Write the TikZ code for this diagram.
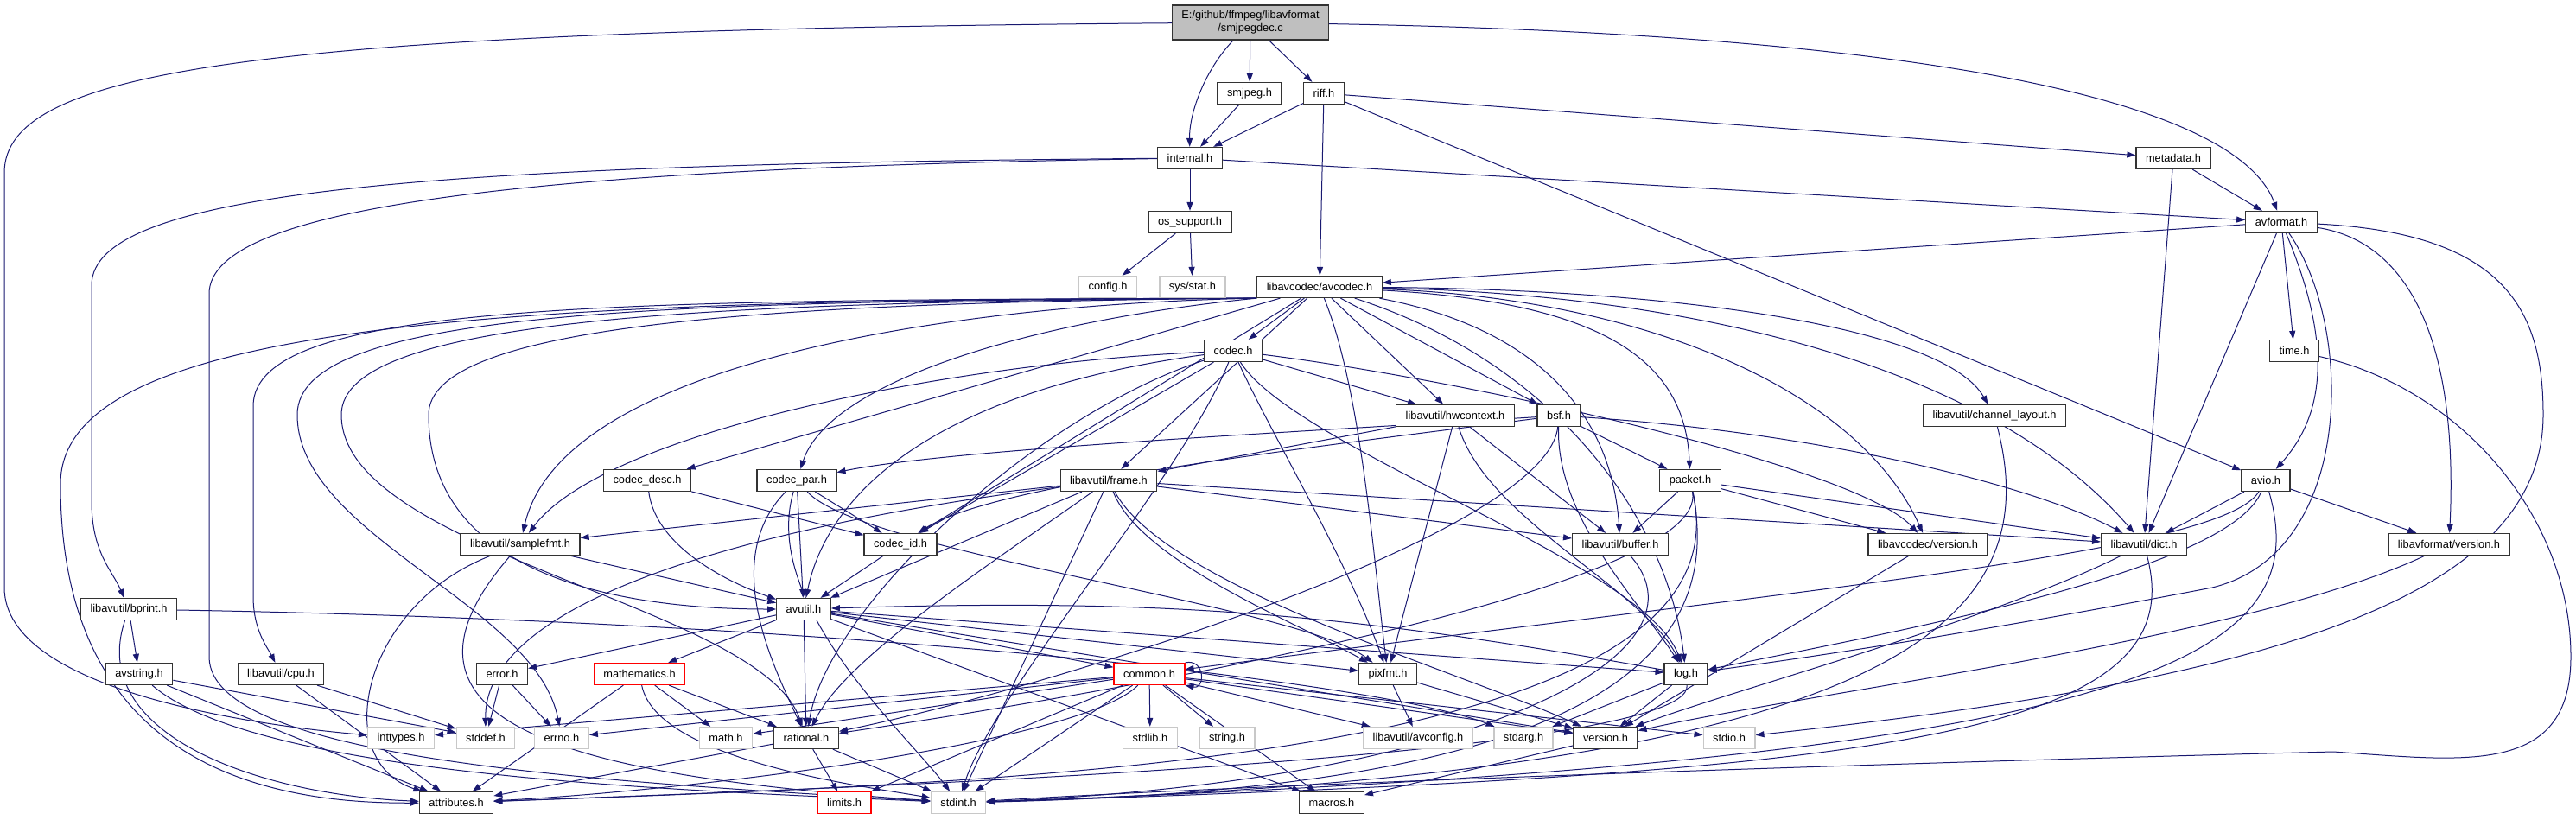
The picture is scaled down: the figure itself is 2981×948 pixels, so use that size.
\documentclass[tikz,border=0pt]{standalone}
\usepackage{fontspec}
\setmainfont{Liberation Sans}
\usetikzlibrary{arrows.meta}
\definecolor{edgeblue}{HTML}{191970}
\definecolor{rootgray}{HTML}{BFBFBF}
\definecolor{sysgray}{HTML}{C8C8C8}
\pgfdeclarelayer{edges}
\pgfsetlayers{edges,main}

\begin{document}
\begin{tikzpicture}[x=1pt,y=-1pt,
  hdr/.style={draw=black!80, line width=1.3pt, fill=white, minimum height=25pt, inner xsep=11pt, inner ysep=0pt, font=\fontsize{12.8}{15}\selectfont},
  syshdr/.style={hdr, draw=sysgray},
  cuthdr/.style={hdr, draw=red},
  roothdr/.style={hdr, fill=rootgray, align=center, minimum height=40pt},
  dep/.style={draw=edgeblue, line width=1pt, -{Triangle[length=10pt,width=7pt]}}]
\useasboundingbox (0,0) rectangle (2981,948);
\node[roothdr] (src) at (1447,26) {E:/github/ffmpeg/libavformat\\/smjpegdec.c};
\node[hdr] (smjpeg) at (1446,108) {smjpeg.h};
\node[hdr] (riff) at (1532,108) {riff.h};
\node[hdr] (internal) at (1377,183) {internal.h};
\node[hdr] (metadata) at (2515,183) {metadata.h};
\node[hdr] (ossupport) at (1377,257) {os\_support.h};
\node[hdr] (avformat) at (2640,257) {avformat.h};
\node[syshdr] (config) at (1282,332) {config.h};
\node[syshdr] (sysstat) at (1380,332) {sys/stat.h};
\node[hdr] (avcodec) at (1527,332) {libavcodec/avcodec.h};
\node[hdr] (codec) at (1427,406) {codec.h};
\node[hdr] (timeh) at (2655,406) {time.h};
\node[hdr] (hwcontext) at (1684,481) {libavutil/hwcontext.h};
\node[hdr] (bsf) at (1804,481) {bsf.h};
\node[hdr] (chlayout) at (2308,481) {libavutil/channel\_layout.h};
\node[hdr] (codecdesc) at (749,556) {codec\_desc.h};
\node[hdr] (codecpar) at (922,556) {codec\_par.h};
\node[hdr] (frame) at (1283,556) {libavutil/frame.h};
\node[hdr] (packet) at (1956,556) {packet.h};
\node[hdr] (avio) at (2622,556) {avio.h};
\node[hdr] (samplefmt) at (602,630) {libavutil/samplefmt.h};
\node[hdr] (codecid) at (1042,630) {codec\_id.h};
\node[hdr] (buffer) at (1875,630) {libavutil/buffer.h};
\node[hdr] (lavcversion) at (2231,630) {libavcodec/version.h};
\node[hdr] (dict) at (2481,630) {libavutil/dict.h};
\node[hdr] (lavfversion) at (2834,630) {libavformat/version.h};
\node[hdr] (bprint) at (149,705) {libavutil/bprint.h};
\node[hdr] (avutil) at (930,705) {avutil.h};
\node[hdr] (avstring) at (161,780) {avstring.h};
\node[hdr] (cpu) at (325,780) {libavutil/cpu.h};
\node[hdr] (error) at (581,780) {error.h};
\node[cuthdr] (mathematics) at (740,780) {mathematics.h};
\node[cuthdr] (common) at (1330,780) {common.h};
\node[hdr] (pixfmt) at (1606,780) {pixfmt.h};
\node[hdr] (log) at (1951,780) {log.h};
\node[syshdr] (inttypes) at (464,854) {inttypes.h};
\node[syshdr] (stddef) at (562,854) {stddef.h};
\node[syshdr] (errno) at (650,854) {errno.h};
\node[syshdr] (math) at (840,854) {math.h};
\node[hdr] (rational) at (933,854) {rational.h};
\node[syshdr] (stdlib) at (1331,854) {stdlib.h};
\node[syshdr] (string) at (1420,854) {string.h};
\node[syshdr] (avconfig) at (1641,854) {libavutil/avconfig.h};
\node[syshdr] (stdarg) at (1763,854) {stdarg.h};
\node[hdr] (version) at (1858,854) {version.h};
\node[syshdr] (stdio) at (2001,854) {stdio.h};
\node[hdr] (attributes) at (528,929) {attributes.h};
\node[cuthdr] (limits) at (977,929) {limits.h};
\node[syshdr] (stdint) at (1109,929) {stdint.h};
\node[hdr] (macros) at (1541,929) {macros.h};
\begin{pgfonlayer}{edges}
\draw[dep] (src) -- (smjpeg);
\draw[dep] (src) -- (riff);
\draw[dep] (src) .. controls (1395,80) and (1376,130) .. (internal);
\draw[dep] (src) .. controls (2250,40) and (2590,120) .. (avformat);
\draw[dep] (src) .. controls (300,35) and (5,80) .. (5,200) -- (5,680) .. controls (5,800) and (300,840) .. (inttypes);
\draw[dep] (smjpeg) -- (internal);
\draw[dep] (riff) -- (internal);
\draw[dep] (riff) -- (avcodec);
\draw[dep] (riff) -- (metadata);
\draw[dep] (riff) -- (avio);
\draw[dep] (internal) -- (ossupport);
\draw[dep] (internal) -- (avformat);
\draw[dep] (internal) .. controls (500,190) and (106,220) .. (106,330) -- (106,580) .. controls (106,640) and (130,660) .. (bprint);
\draw[dep] (internal) .. controls (600,195) and (242,240) .. (242,340) -- (242,760) .. controls (242,880) and (700,905) .. (stdint);
\draw[dep] (ossupport) -- (config);
\draw[dep] (ossupport) -- (sysstat);
\draw[dep] (metadata) -- (avformat);
\draw[dep] (metadata) -- (dict);
\draw[dep] (avformat) -- (avcodec);
\draw[dep] (avformat) -- (timeh);
\draw[dep] (avformat) -- (dict);
\draw[dep] (avformat) .. controls (2700,400) and (2690,480) .. (avio);
\draw[dep] (avformat) .. controls (2725,380) and (2725,640) .. (2560,680) .. controls (2300,730) and (2100,760) .. (log);
\draw[dep] (avformat) .. controls (2790,280) and (2845,400) .. (lavfversion);
\draw[dep] (avformat) .. controls (2900,270) and (2943,360) .. (2943,480) .. controls (2943,700) and (2600,790) .. (stdio);
\draw[dep] (timeh) .. controls (2850,450) and (2975,600) .. (2975,760) .. controls (2975,900) and (2850,880) .. (2700,870) .. controls (2300,880) and (1500,905) .. (stdint);
\draw[dep] (avcodec) -- (codec);
\draw[dep] (avcodec.south west) .. controls (1100,352) and (650,420) .. (samplefmt);
\draw[dep] (avcodec) -- (codecdesc);
\draw[dep] (avcodec.south west) .. controls (1200,370) and (960,440) .. (codecpar);
\draw[dep] (avcodec) -- (codecid);
\draw[dep] (avcodec) -- (frame);
\draw[dep] (avcodec) -- (hwcontext);
\draw[dep] (avcodec) .. controls (1575,450) and (1590,650) .. (pixfmt);
\draw[dep] (avcodec) -- (bsf);
\draw[dep] (avcodec) .. controls (1860,350) and (1950,420) .. (packet);
\draw[dep] (avcodec) .. controls (1780,380) and (1865,480) .. (buffer);
\draw[dep] (avcodec) .. controls (1900,345) and (2150,450) .. (lavcversion);
\draw[dep] (avcodec) .. controls (1950,340) and (2300,420) .. (dict);
\draw[dep] (avcodec) .. controls (1800,420) and (1930,600) .. (log);
\draw[dep] (avcodec) .. controls (1950,335) and (2250,380) .. (chlayout);
\draw[dep] (avcodec.south west) .. controls (600,346) and (70,370) .. (70,560) .. controls (70,880) and (300,930) .. (attributes);
\draw[dep] (avcodec.south west) .. controls (700,347) and (293,350) .. (293,470) -- (293,690) .. controls (293,730) and (310,750) .. (cpu);
\draw[dep] (avcodec.south west) .. controls (750,348) and (344,360) .. (344,480) .. controls (344,620) and (620,700) .. (errno);
\draw[dep] (avcodec.south west) .. controls (800,349) and (395,370) .. (395,480) .. controls (395,640) and (880,700) .. (rational);
\draw[dep] (avcodec.south west) .. controls (850,350) and (496,380) .. (496,480) .. controls (496,680) and (750,705) .. (avutil);
\draw[dep] (codec) .. controls (1100,420) and (700,500) .. (samplefmt);
\draw[dep] (codec) -- (codecid);
\draw[dep] (codec) .. controls (1100,450) and (960,560) .. (avutil);
\draw[dep] (codec) .. controls (1200,480) and (960,700) .. (rational);
\draw[dep] (codec) .. controls (1370,550) and (1150,800) .. (stdint);
\draw[dep] (codec) -- (hwcontext);
\draw[dep] (codec) .. controls (1500,520) and (1900,650) .. (log);
\draw[dep] (codec) .. controls (1470,500) and (1560,650) .. (pixfmt);
\draw[dep] (codec) .. controls (1700,440) and (2150,540) .. (lavcversion);
\draw[dep] (bsf) .. controls (1500,500) and (1100,520) .. (codecpar);
\draw[dep] (bsf) .. controls (1500,520) and (1150,560) .. (codecid);
\draw[dep] (bsf) -- (packet);
\draw[dep] (bsf) .. controls (2100,500) and (2350,560) .. (dict);
\draw[dep] (bsf) .. controls (1800,600) and (1900,700) .. (log);
\draw[dep] (bsf) .. controls (1790,620) and (1200,800) .. (rational);
\draw[dep] (hwcontext) -- (frame);
\draw[dep] (hwcontext) -- (buffer);
\draw[dep] (hwcontext) -- (pixfmt);
\draw[dep] (hwcontext) .. controls (1720,600) and (1900,680) .. (log);
\draw[dep] (codecdesc) -- (codecid);
\draw[dep] (codecdesc) .. controls (760,640) and (860,680) .. (avutil);
\draw[dep] (codecpar) -- (codecid);
\draw[dep] (codecpar) -- (avutil);
\draw[dep] (codecpar) .. controls (830,650) and (900,780) .. (rational);
\draw[dep] (codecpar) .. controls (1000,640) and (1500,700) .. (pixfmt);
\draw[dep] (codecpar) .. controls (880,700) and (1050,850) .. (stdint);
\draw[dep] (codecid) -- (avutil);
\draw[dep] (frame) -- (samplefmt);
\draw[dep] (frame) -- (avutil);
\draw[dep] (frame) -- (buffer);
\draw[dep] (frame) -- (dict);
\draw[dep] (frame) .. controls (1150,650) and (980,760) .. (rational);
\draw[dep] (frame) .. controls (1320,650) and (1500,720) .. (pixfmt);
\draw[dep] (frame) .. controls (1350,680) and (1700,780) .. (version);
\draw[dep] (frame) .. controls (1100,580) and (560,650) .. (stddef);
\draw[dep] (frame) -- (stdint);
\draw[dep] (packet) -- (buffer);
\draw[dep] (packet) -- (dict);
\draw[dep] (packet) -- (lavcversion);
\draw[dep] (packet) .. controls (1980,680) and (1300,800) .. (rational);
\draw[dep] (packet) .. controls (2010,820) and (1700,915) .. (stdint);
\draw[dep] (packet) .. controls (2030,880) and (1200,905) .. (attributes);
\draw[dep] (avio) -- (dict);
\draw[dep] (avio) -- (lavfversion);
\draw[dep] (avio) .. controls (2580,660) and (2200,730) .. (log);
\draw[dep] (avio) .. controls (2570,640) and (2100,680) .. (common);
\draw[dep] (avio) .. controls (2680,760) and (2500,880) .. (stdint);
\draw[dep] (samplefmt) .. controls (420,700) and (380,880) .. (attributes);
\draw[dep] (samplefmt) -- (avutil);
\draw[dep] (samplefmt) .. controls (410,850) and (700,900) .. (stdint);
\draw[dep] (bprint) -- (avstring);
\draw[dep] (bprint) .. controls (100,850) and (300,920) .. (attributes);
\draw[dep] (bprint) .. controls (1000,720) and (1600,790) .. (stdarg);
\draw[dep] (avstring) -- (stddef);
\draw[dep] (avstring) -- (attributes);
\draw[dep] (avstring) .. controls (300,900) and (800,915) .. (stdint);
\draw[dep] (cpu) -- (stddef);
\draw[dep] (cpu) -- (attributes);
\draw[dep] (error) -- (errno);
\draw[dep] (error) -- (stddef);
\draw[dep] (mathematics) -- (math);
\draw[dep] (mathematics) -- (attributes);
\draw[dep] (mathematics) -- (rational);
\draw[dep] (mathematics) .. controls (760,880) and (1000,910) .. (stdint);
\draw[dep] (avutil) -- (error);
\draw[dep] (avutil) -- (mathematics);
\draw[dep] (avutil) -- (rational);
\draw[dep] (avutil) -- (common);
\draw[dep] (avutil) -- (pixfmt);
\draw[dep] (avutil) -- (log);
\draw[dep] (avutil) -- (version);
\draw[dep] (avutil) -- (macros);
\draw[dep] (common) -- (stdlib);
\draw[dep] (common) -- (string);
\draw[dep] (common) -- (avconfig);
\draw[dep] (common) -- (version);
\draw[dep] (common) -- (stdio);
\draw[dep] (common) -- (macros);
\draw[dep] (common) -- (math);
\draw[dep] (common) -- (errno);
\draw[dep] (common) -- (inttypes);
\draw[dep] (common) -- (limits);
\draw[dep] (common) -- (stdint);
\draw[dep] (common) .. controls (1250,860) and (800,915) .. (attributes);
\draw[dep] (common.north east) .. controls (1395,762) and (1395,798) .. (common.south east);
\draw[dep] (rational) -- (limits);
\draw[dep] (rational) -- (stdint);
\draw[dep] (rational) -- (attributes);
\draw[dep] (log) -- (stdarg);
\draw[dep] (log) -- (version);
\draw[dep] (log) to[bend right=6] (avutil);
\draw[dep] (log) .. controls (1960,880) and (900,915) .. (attributes);
\draw[dep] (pixfmt) -- (avconfig);
\draw[dep] (pixfmt) -- (version);
\draw[dep] (version) -- (macros);
\draw[dep] (dict) .. controls (2540,850) and (2200,895) .. (stdint);
\draw[dep] (dict) .. controls (2300,720) and (2000,800) .. (version);
\draw[dep] (buffer) .. controls (1990,760) and (1700,905) .. (stdint);
\draw[dep] (lavcversion) -- (version);
\draw[dep] (chlayout) .. controls (2370,720) and (2200,895) .. (stdint);
\draw[dep] (lavfversion) .. controls (2600,740) and (2100,800) .. (version);
\end{pgfonlayer}
\end{tikzpicture}
\end{document}
